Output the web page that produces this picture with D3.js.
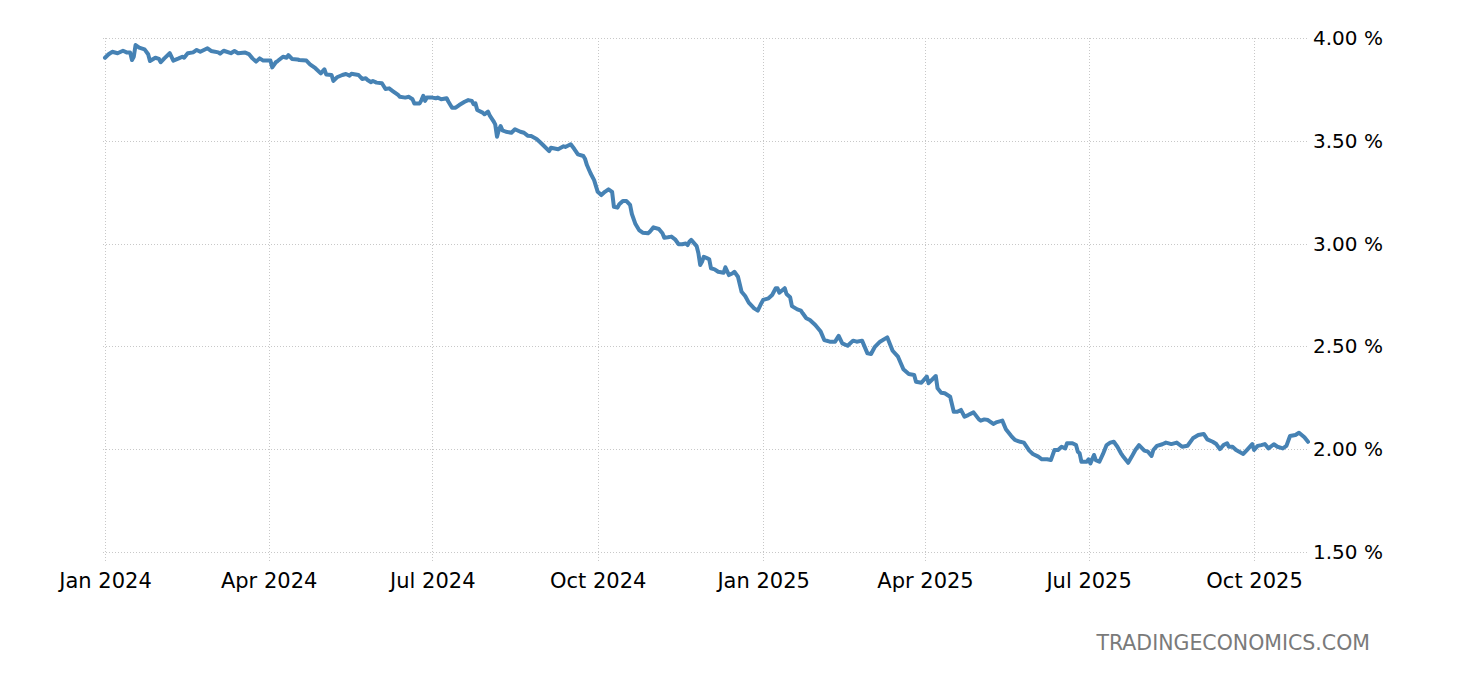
<!DOCTYPE html>
<html>
<head>
<meta charset="utf-8">
<script src="https://cdn.jsdelivr.net/npm/d3@7"></script>
<style>
  html, body { margin: 0; padding: 0; background: #fff; }
  svg { display: block; }
</style>
</head>
<body>
<svg id="chart" width="1460" height="680"></svg>
<script>
// ---- Data (yield, %) ----
const series2024 = [
["2024-01-01",3.904],["2024-01-03",3.921],["2024-01-05",3.933],["2024-01-08",3.926],["2024-01-11",3.938],["2024-01-13",3.930],["2024-01-15",3.929],["2024-01-16",3.893],["2024-01-17",3.909],["2024-01-18",3.966],
["2024-01-20",3.953],["2024-01-23",3.945],["2024-01-25",3.921],["2024-01-26",3.888],["2024-01-29",3.904],["2024-01-31",3.898],["2024-02-01",3.882],["2024-02-03",3.901],["2024-02-06",3.926],["2024-02-08",3.890],
["2024-02-11",3.901],["2024-02-13",3.909],["2024-02-14",3.904],["2024-02-16",3.926],["2024-02-19",3.930],["2024-02-21",3.942],["2024-02-23",3.933],["2024-02-27",3.950],["2024-02-29",3.937],["2024-03-04",3.930],
["2024-03-05",3.924],["2024-03-07",3.938],["2024-03-11",3.926],["2024-03-13",3.937],["2024-03-15",3.926],["2024-03-19",3.929],["2024-03-21",3.922],["2024-03-23",3.901],["2024-03-25",3.885],["2024-03-27",3.901],
["2024-03-29",3.890],["2024-04-02",3.890],["2024-04-03",3.857],["2024-04-05",3.882],["2024-04-06",3.888],["2024-04-09",3.909],["2024-04-11",3.904],["2024-04-12",3.917],["2024-04-14",3.898],["2024-04-17",3.896],
["2024-04-18",3.893],["2024-04-22",3.890],["2024-04-24",3.872],["2024-04-27",3.853],["2024-04-30",3.828],["2024-05-02",3.848],["2024-05-03",3.823],["2024-05-06",3.820],["2024-05-07",3.791],["2024-05-09",3.809],
["2024-05-12",3.820],["2024-05-14",3.825],["2024-05-16",3.817],["2024-05-17",3.826],["2024-05-21",3.820],["2024-05-23",3.801],["2024-05-25",3.804],["2024-05-26",3.796],["2024-05-28",3.785],["2024-05-29",3.791],
["2024-05-31",3.783],["2024-06-03",3.780],["2024-06-05",3.752],["2024-06-07",3.755],["2024-06-09",3.742],["2024-06-12",3.723],["2024-06-13",3.714],["2024-06-16",3.710],["2024-06-18",3.714],["2024-06-20",3.702],
["2024-06-21",3.682],["2024-06-24",3.682],["2024-06-25",3.698],["2024-06-26",3.719],["2024-06-27",3.694],["2024-06-28",3.710],["2024-07-01",3.710],["2024-07-03",3.707],["2024-07-04",3.710],["2024-07-06",3.702],
["2024-07-09",3.707],["2024-07-10",3.690],["2024-07-12",3.661],["2024-07-14",3.661],["2024-07-16",3.674],["2024-07-19",3.690],["2024-07-21",3.698],["2024-07-23",3.694],["2024-07-24",3.678],["2024-07-25",3.682],
["2024-07-26",3.650],["2024-07-29",3.637],["2024-07-30",3.629],["2024-08-01",3.642],["2024-08-02",3.622],["2024-08-04",3.596],["2024-08-05",3.580],["2024-08-06",3.520],["2024-08-07",3.553],["2024-08-08",3.572],
["2024-08-09",3.551],["2024-08-11",3.544],["2024-08-14",3.539],["2024-08-16",3.556],["2024-08-19",3.544],["2024-08-21",3.539],["2024-08-23",3.525],["2024-08-25",3.523],["2024-08-28",3.509],["2024-08-30",3.493],
["2024-09-01",3.476],["2024-09-04",3.450],["2024-09-05",3.466],["2024-09-09",3.459],["2024-09-12",3.473],["2024-09-13",3.470],["2024-09-16",3.483],["2024-09-18",3.460],["2024-09-20",3.434],["2024-09-23",3.426],
["2024-09-24",3.411],["2024-09-25",3.382],["2024-09-27",3.342],["2024-09-29",3.309],["2024-10-01",3.252],["2024-10-03",3.236],["2024-10-05",3.252],["2024-10-07",3.264],["2024-10-09",3.252],["2024-10-10",3.179],
["2024-10-12",3.175],["2024-10-13",3.191],["2024-10-15",3.207],["2024-10-17",3.207],["2024-10-19",3.188],["2024-10-20",3.144],["2024-10-22",3.095],["2024-10-24",3.066],["2024-10-26",3.053],["2024-10-29",3.050],
["2024-10-30",3.058],["2024-11-01",3.079],["2024-11-04",3.071],["2024-11-06",3.050],["2024-11-07",3.029],["2024-11-09",3.031],["2024-11-11",3.034],["2024-11-13",3.021],["2024-11-15",2.997],["2024-11-17",2.997],
["2024-11-19",3.001],["2024-11-20",2.993],["2024-11-21",3.009],["2024-11-22",3.018],["2024-11-25",2.988],["2024-11-26",2.953],["2024-11-27",2.896],["2024-11-28",2.912],["2024-11-29",2.936],["2024-12-01",2.928],
["2024-12-02",2.924],["2024-12-03",2.880],["2024-12-05",2.875],["2024-12-07",2.863],["2024-12-10",2.858],["2024-12-11",2.885],["2024-12-13",2.847],["2024-12-15",2.856],["2024-12-16",2.863],["2024-12-18",2.839],
["2024-12-20",2.766],["2024-12-22",2.745],["2024-12-24",2.713],["2024-12-27",2.685],["2024-12-29",2.674],["2024-12-31",2.710]
];
const series2025 = [
["2025-01-01",2.726],["2025-01-04",2.734],["2025-01-06",2.750],["2025-01-08",2.783],["2025-01-09",2.783],["2025-01-10",2.761],["2025-01-13",2.783],["2025-01-14",2.755],["2025-01-16",2.739],["2025-01-17",2.696],
["2025-01-20",2.680],["2025-01-22",2.674],["2025-01-23",2.661],["2025-01-25",2.637],["2025-01-27",2.628],["2025-01-30",2.604],["2025-02-02",2.572],["2025-02-04",2.531],["2025-02-07",2.523],["2025-02-10",2.523],
["2025-02-12",2.551],["2025-02-14",2.515],["2025-02-17",2.503],["2025-02-20",2.528],["2025-02-22",2.523],["2025-02-25",2.528],["2025-02-28",2.466],["2025-03-02",2.463],["2025-03-04",2.496],["2025-03-07",2.523],
["2025-03-11",2.544],["2025-03-14",2.479],["2025-03-17",2.450],["2025-03-20",2.389],["2025-03-23",2.366],["2025-03-26",2.361],["2025-03-27",2.328],["2025-03-30",2.323],["2025-04-02",2.353],["2025-04-03",2.321],
["2025-04-07",2.356],["2025-04-08",2.296],["2025-04-10",2.275],["2025-04-12",2.272],["2025-04-15",2.255],["2025-04-17",2.182],["2025-04-19",2.182],["2025-04-21",2.191],["2025-04-23",2.158],["2025-04-25",2.166],
["2025-04-28",2.179],["2025-05-01",2.145],["2025-05-02",2.139],["2025-05-04",2.145],["2025-05-06",2.142],["2025-05-09",2.123],["2025-05-11",2.132],["2025-05-14",2.139],["2025-05-16",2.097],["2025-05-19",2.064],
["2025-05-21",2.045],["2025-05-24",2.036],["2025-05-26",2.032],["2025-05-29",1.993],["2025-05-31",1.977],["2025-06-03",1.964],["2025-06-05",1.951],["2025-06-08",1.951],["2025-06-10",1.947],["2025-06-12",1.996],
["2025-06-14",1.996],["2025-06-16",2.012],["2025-06-18",2.004],["2025-06-19",2.029],["2025-06-22",2.029],["2025-06-24",2.020],["2025-06-25",1.988],["2025-06-26",1.980],["2025-06-27",1.939],["2025-06-30",1.939],
["2025-07-01",1.951],["2025-07-02",1.931],["2025-07-04",1.972],["2025-07-05",1.947],["2025-07-07",1.939],["2025-07-09",1.977],["2025-07-11",2.020],["2025-07-13",2.032],["2025-07-15",2.036],["2025-07-17",2.012],
["2025-07-19",1.980],["2025-07-20",1.967],["2025-07-23",1.934],["2025-07-25",1.964],["2025-07-27",1.996],["2025-07-29",2.020],["2025-08-01",1.993],["2025-08-03",1.988],["2025-08-05",1.967],["2025-08-06",1.996],
["2025-08-08",2.016],["2025-08-11",2.024],["2025-08-13",2.032],["2025-08-16",2.025],["2025-08-19",2.032],["2025-08-22",2.012],["2025-08-25",2.017],["2025-08-28",2.053],["2025-08-31",2.069],["2025-09-03",2.074],
["2025-09-05",2.048],["2025-09-08",2.036],["2025-09-10",2.025],["2025-09-12",2.000],["2025-09-14",2.020],["2025-09-16",2.029],["2025-09-17",2.012],["2025-09-19",2.012],["2025-09-21",1.996],["2025-09-25",1.977],
["2025-09-27",1.996],["2025-09-30",2.025],["2025-10-01",1.996],["2025-10-03",2.016],["2025-10-05",2.020],["2025-10-07",2.025],["2025-10-09",2.004],["2025-10-12",2.024],["2025-10-14",2.012],["2025-10-17",2.004],
["2025-10-19",2.016],["2025-10-21",2.064],["2025-10-24",2.069],["2025-10-26",2.080],["2025-10-29",2.058],["2025-10-31",2.036]
];
const xTickLabels = ["2024-01-01","2024-04-01","2024-07-01","2024-10-01","2025-01-01","2025-04-01","2025-07-01","2025-10-01"];
const yTickValues = [1.5, 2.0, 2.5, 3.0, 3.5, 4.0];
const xDomain = ["2024-01-01","2025-10-31"];
const yDomain = [1.5, 4.0];
const sourceText = "TRADINGECONOMICS.COM";

// ---- Drawing ----
(function () {
const parse = d3.timeParse("%Y-%m-%d");
const data = series2024.concat(series2025).map(d => ({date: parse(d[0]), value: d[1]}));

const svg = d3.select("#chart");
const mLeft = 105, mRight = 1308, mTop = 38, mBottom = 552;

const x = d3.scaleTime().domain(xDomain.map(parse)).range([mLeft, mRight]);
const y = d3.scaleLinear().domain(yDomain).range([mBottom, mTop]);

const gridColor = "#c8c8c8";
const font = "'DejaVu Sans', Verdana, sans-serif";

// horizontal grid
svg.append("g").selectAll("line").data(yTickValues).join("line")
  .attr("x1", mLeft - 2).attr("x2", mRight)
  .attr("y1", d => Math.round(y(d)) + 0.5).attr("y2", d => Math.round(y(d)) + 0.5)
  .attr("stroke", gridColor).attr("stroke-width", 1).attr("stroke-dasharray", "1,2");

// vertical grid
svg.append("g").selectAll("line").data(xTickLabels.map(parse)).join("line")
  .attr("x1", d => Math.round(x(d)) + 0.5).attr("x2", d => Math.round(x(d)) + 0.5)
  .attr("y1", mTop).attr("y2", mBottom + 10)
  .attr("stroke", gridColor).attr("stroke-width", 1).attr("stroke-dasharray", "1,2");

// x axis labels
const xAxis = d3.axisBottom(x)
  .tickValues(xTickLabels.map(parse))
  .tickFormat(d3.timeFormat("%b %Y"))
  .tickSize(0).tickPadding(21);
const gx = svg.append("g").attr("transform", `translate(0,${mBottom})`).call(xAxis);
gx.select(".domain").remove();
gx.selectAll("text").attr("font-family", font).attr("font-size", 21).attr("fill", "#000");

// y axis labels (right)
const yAxis = d3.axisRight(y)
  .tickValues(yTickValues)
  .tickFormat(d => d3.format(".2f")(d) + " %")
  .tickSize(0).tickPadding(5);
const gy = svg.append("g").attr("transform", `translate(${mRight},0)`).call(yAxis);
gy.select(".domain").remove();
gy.selectAll("text").attr("font-family", font).attr("font-size", 20).attr("fill", "#000");

// line
const line = d3.line().x(d => x(d.date)).y(d => y(d.value)).curve(d3.curveLinear);
svg.append("path").datum(data)
  .attr("d", line)
  .attr("fill", "none")
  .attr("stroke", "#4682b4")
  .attr("stroke-width", 4)
  .attr("stroke-linejoin", "round")
  .attr("stroke-linecap", "round");

// watermark
svg.append("text")
  .attr("x", 1370).attr("y", 650)
  .attr("text-anchor", "end")
  .attr("font-family", font).attr("font-size", 20.5)
  .attr("fill", "#7a7a7a")
  .text(sourceText);
})();
</script>
</body>
</html>
